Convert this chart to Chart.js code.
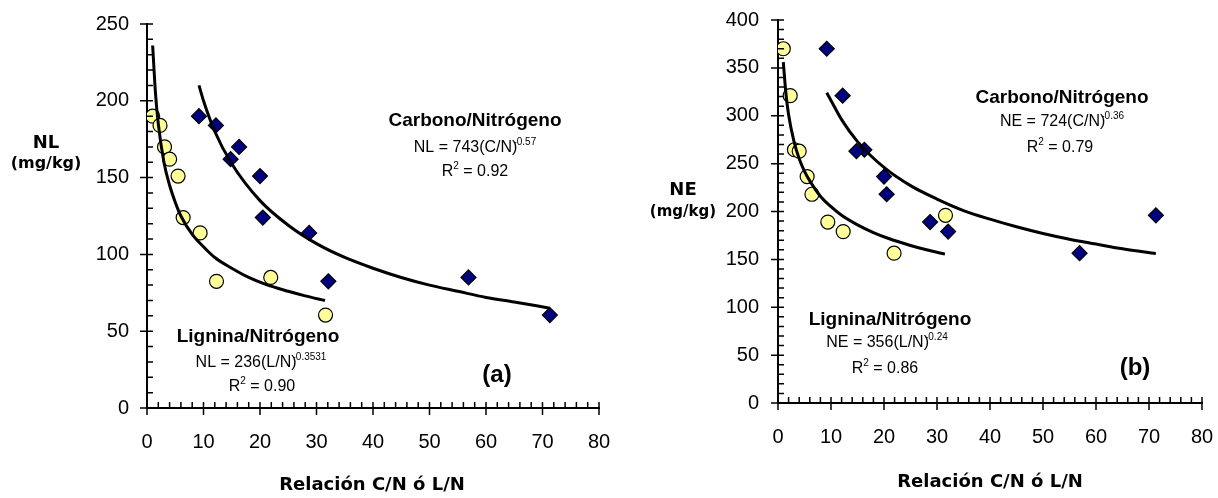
<!DOCTYPE html>
<html><head><meta charset="utf-8">
<script src="https://cdn.jsdelivr.net/npm/chart.js@4.4.1/dist/chart.umd.min.js"></script>
<style>
html,body{margin:0;padding:0;background:#fff;width:1218px;height:498px;overflow:hidden}
.box{position:absolute;top:0;height:498px}
#b1{left:0;width:640px}
#b2{left:640px;width:578px}
</style></head><body>
<div class="box" id="b1"><canvas id="c1"></canvas></div>
<div class="box" id="b2"><canvas id="c2"></canvas></div>
<script>
// ---- data ----
const lnRatio  = [1.0, 2.3, 3.1, 4.0, 5.5, 6.4, 9.4, 12.3, 21.9, 31.6];   // Lignina/N
const cnRatio  = [9.2, 12.2, 16.3, 14.8, 20.0, 20.5, 28.7, 32.1, 56.9, 71.3]; // Carbono/N
const nlValues = [190, 184, 170, 162, 151, 124, 114, 82.5, 85, 60.5];
const neValues = [370, 321, 264.5, 263, 236.5, 218, 189, 179, 156.5, 196];

const ligFitX = [1, 1.5, 2, 3, 4, 5, 6, 8, 10, 12, 15, 18, 21, 25, 28, 31.5];
const nlLigFitY = [236, 205, 185, 160, 145, 134, 125, 113, 105, 98, 91, 85, 80.5, 76, 73, 70];
const neLigFitY = [356, 323, 301, 273.5, 255, 242, 232, 216, 205, 196, 186, 178, 171.5, 164.5, 160, 155.5];
const carFitX = [9.2, 10, 12, 15, 20, 25, 30, 35, 40, 45, 50, 55, 60, 65, 71.3];
const nlCarFitY = [210, 200, 180, 159, 135, 119, 107, 98, 91, 85, 80, 76, 72, 69, 65];
const neCarFitY = [324, 316, 296, 273, 246, 227, 213, 201, 192, 184, 177, 171, 166, 161, 156];

const xTicks = [0, 80, 10, 2];      // min, max, major step, minor step
const nlTicks = [0, 250, 50, 10];
const neTicks = [0, 400, 50, 10];

const pts = (xs, ys) => xs.map((x, i) => ({x, y: ys[i]}));

const YELLOW = '#FFFF99', NAVY = '#000080';
const REG = 'Liberation Sans', BOLD = 'DejaVu Sans';

function drawRich(ctx, parts, cx, cy) {
  let total = 0;
  parts.forEach(p => { ctx.font = p.font; p.w = ctx.measureText(p.t).width; total += p.w + (p.dx || 0); });
  let x = cx - total / 2;
  ctx.textBaseline = 'middle'; ctx.textAlign = 'left'; ctx.fillStyle = '#000';
  parts.forEach(p => { x += (p.dx || 0); ctx.font = p.font; ctx.fillText(p.t, x, cy + (p.dy || 0)); x += p.w; });
}

const tickMarks = {
  id: 'tickMarks',
  afterDraw(chart, args, o) {
    const {ctx, scales: {x, y}} = chart;
    const ax = x.getPixelForValue(x.min), ay = y.getPixelForValue(y.min);
    ctx.save(); ctx.strokeStyle = '#000'; ctx.lineWidth = 1.5;
    ctx.beginPath();
    for (let v = x.min; v <= x.max + 1e-6; v += o.x[3]) {
      const px = x.getPixelForValue(v);
      const major = Math.abs(v / o.x[2] - Math.round(v / o.x[2])) < 1e-6;
      ctx.moveTo(px, ay - 6); ctx.lineTo(px, major ? ay + 7 : ay);
    }
    for (let v = y.min; v <= y.max + 1e-6; v += o.y[3]) {
      const py = y.getPixelForValue(v);
      const major = Math.abs(v / o.y[2] - Math.round(v / o.y[2])) < 1e-6;
      ctx.moveTo(major ? ax - 7 : ax, py); ctx.lineTo(ax + 6, py);
    }
    ctx.stroke(); ctx.restore();
  }
};

const notes = {
  id: 'notes',
  afterDraw(chart, args, o) {
    const ctx = chart.ctx; ctx.save();
    o.items.forEach(it => drawRich(ctx, it.parts, it.x, it.y));
    ctx.restore();
  }
};

function makeChart(id, yVals, ligY, carY, yT, lay, notesItems) {
  return new Chart(document.getElementById(id), {
    type: 'scatter',
    data: {
      datasets: [
        {data: pts(ligFitX, ligY), showLine: true, borderColor: '#000', borderWidth: 3, pointRadius: 0, cubicInterpolationMode: 'monotone', fill: false},
        {data: pts(carFitX, carY), showLine: true, borderColor: '#000', borderWidth: 3, pointRadius: 0, cubicInterpolationMode: 'monotone', fill: false},
        {data: pts(lnRatio, yVals), pointStyle: 'circle', pointRadius: 7, backgroundColor: YELLOW, borderColor: '#000', borderWidth: 1.2},
        {data: pts(cnRatio, yVals), pointStyle: 'rectRot', pointRadius: 7.5, backgroundColor: NAVY, borderColor: '#000', borderWidth: 1.2}
      ]
    },
    options: {
      responsive: true, maintainAspectRatio: false, animation: false, devicePixelRatio: 1,
      layout: {padding: {left: 0, top: lay.top, right: lay.right, bottom: 0}},
      plugins: {legend: {display: false}, tooltip: {enabled: false},
        tickMarks: {x: xTicks, y: yT}, notes: {items: notesItems}},
      scales: {
        x: {type: 'linear', min: xTicks[0], max: xTicks[1],
          ticks: {stepSize: xTicks[2], color: '#000', font: {family: REG, size: 20}, padding: lay.xpad},
          grid: {display: false, drawTicks: false},
          border: {display: true, color: '#000', width: 2},
          afterFit: s => { s.height = lay.xh; s.paddingLeft = 0; s.paddingRight = 0; }},
        y: {type: 'linear', min: yT[0], max: yT[1],
          ticks: {stepSize: yT[2], color: '#000', font: {family: REG, size: 20}, padding: lay.ypad},
          grid: {display: false, drawTicks: false},
          border: {display: true, color: '#000', width: 2},
          afterFit: s => { s.width = lay.yw; s.paddingTop = 0; s.paddingBottom = 0; }}
      }
    },
    plugins: [tickMarks, notes]
  });
}

const fB = s => `bold ${s}px "${BOLD}"`;
const fBL = s => `bold ${s}px "${REG}"`;
const fR = s => `${s}px "${REG}"`;

makeChart('c1', nlValues, nlLigFitY, nlCarFitY, nlTicks,
  {top: 24, right: 41, xh: 90, yw: 147, xpad: 22, ypad: 18},
  [
    {x: 46, y: 143, parts: [{t: 'NL', font: fB(18)}]},
    {x: 46, y: 164, parts: [{t: '(mg/kg)', font: fB(16)}]},
    {x: 372, y: 485, parts: [{t: 'Relación C/N ó L/N', font: fB(18)}]},
    {x: 475, y: 121, parts: [{t: 'Carbono/Nitrógeno', font: fBL(19)}]},
    {x: 475, y: 148, parts: [{t: 'NL = 743(C/N)', font: fR(16)}, {t: '-0.57', font: fR(10), dy: -6, dx: -4}]},
    {x: 475, y: 172, parts: [{t: 'R', font: fR(16)}, {t: '2', font: fR(10), dy: -6}, {t: ' = 0.92', font: fR(16)}]},
    {x: 258, y: 337, parts: [{t: 'Lignina/Nitrógeno', font: fBL(19)}]},
    {x: 261, y: 363, parts: [{t: 'NL = 236(L/N)', font: fR(16)}, {t: '-0.3531', font: fR(10), dy: -6, dx: -4}]},
    {x: 262, y: 387, parts: [{t: 'R', font: fR(16)}, {t: '2', font: fR(10), dy: -6}, {t: ' = 0.90', font: fR(16)}]},
    {x: 497, y: 375, parts: [{t: '(a)', font: fBL(24)}]}
  ]);

const O = 640;
makeChart('c2', neValues, neLigFitY, neCarFitY, neTicks,
  {top: 20, right: 16, xh: 95, yw: 138, xpad: 22, ypad: 19},
  [
    {x: 683 - O, y: 190, parts: [{t: 'NE', font: fB(18)}]},
    {x: 683 - O, y: 212, parts: [{t: '(mg/kg)', font: fB(15)}]},
    {x: 990 - O, y: 482, parts: [{t: 'Relación C/N ó L/N', font: fB(18)}]},
    {x: 1062 - O, y: 98, parts: [{t: 'Carbono/Nitrógeno', font: fBL(19)}]},
    {x: 1062 - O, y: 122, parts: [{t: 'NE = 724(C/N)', font: fR(16)}, {t: '-0.36', font: fR(10), dy: -6, dx: -4}]},
    {x: 1060 - O, y: 148, parts: [{t: 'R', font: fR(16)}, {t: '2', font: fR(10), dy: -6}, {t: ' = 0.79', font: fR(16)}]},
    {x: 890 - O, y: 320, parts: [{t: 'Lignina/Nitrógeno', font: fBL(19)}]},
    {x: 887 - O, y: 343, parts: [{t: 'NE = 356(L/N)', font: fR(16)}, {t: '-0.24', font: fR(10), dy: -6, dx: -4}]},
    {x: 885 - O, y: 369, parts: [{t: 'R', font: fR(16)}, {t: '2', font: fR(10), dy: -6}, {t: ' = 0.86', font: fR(16)}]},
    {x: 1135 - O, y: 368, parts: [{t: '(b)', font: fBL(24)}]}
  ]);
</script>
</body></html>
